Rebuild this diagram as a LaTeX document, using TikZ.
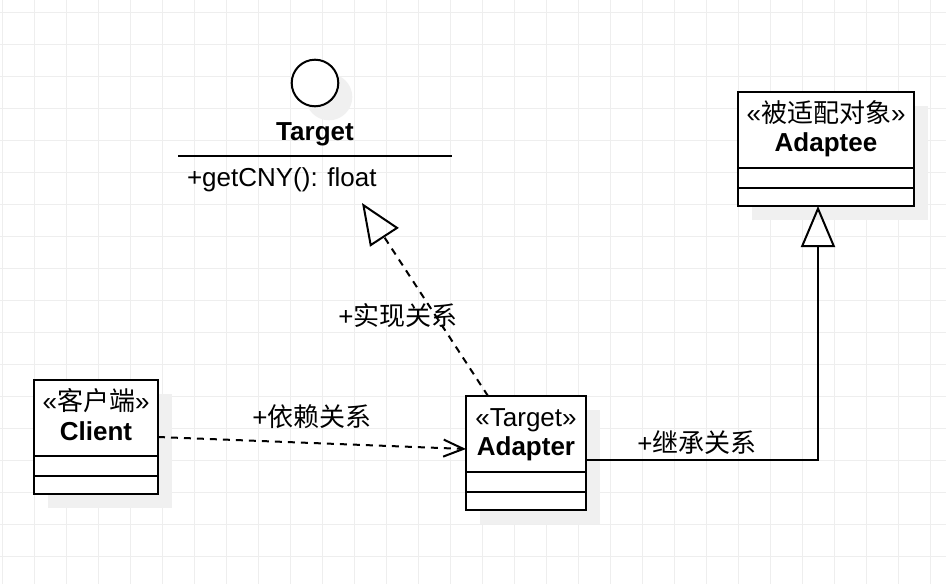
\documentclass[tikz,border=0pt]{standalone}
\usepackage{fontspec}
\setmainfont{Liberation Sans}
\newfontfamily\cjk{Noto Sans CJK SC}
\usetikzlibrary{arrows.meta}
\definecolor{gridc}{RGB}{238,238,238}
\definecolor{shadowc}{RGB}{240,240,240}
\begin{document}
\begin{tikzpicture}[x=1pt,y=-1pt,
  every node/.style={font=\fontsize{26}{30}\selectfont, inner sep=0pt, outer sep=0pt},
  bold/.style={font=\fontsize{26}{30}\selectfont\bfseries},
  umlbox/.style={draw=black, line width=2pt, fill=white, rectangle},
  conn/.style={line width=2pt, draw=black},
  dashconn/.style={conn, dash pattern=on 7pt off 6pt},
  gridline/.style={draw=gridc, line width=1pt},
  opentri/.style={-{Triangle[open, length=41pt, width=34pt]}},
  openbarb/.style={-{Straight Barb[length=20pt, width=17pt]}}]
\useasboundingbox (0,0) rectangle (946,584);
\fill[white] (0,0) rectangle (946,584);
% grid
\foreach \gx in {2,34,...,930} { \draw[gridline] (\gx,0) -- (\gx,584); }
\foreach \gy in {12,44,...,556} { \draw[gridline] (0,\gy) -- (946,\gy); }
% shadows
\fill[shadowc] (48,394) rectangle (172,508);
\fill[shadowc] (480,410) rectangle (600,524);
\fill[shadowc] (752,106) rectangle (928,220);
\fill[shadowc] (329,97) circle (23.3);
% interface Target
\node[circle, draw=black, line width=2pt, fill=white, minimum size=46.6pt] (ifc) at (315,83) {};
\node[bold, anchor=base] (ifcName) at (315,140) {Target};
\coordinate (sepL) at (178,156);
\coordinate (sepR) at (452,156);
\draw[conn] (sepL) -- (sepR);
\node[anchor=base west] (ifcOp) at (187,186) {+getCNY(): float};
% Client
\node[umlbox, minimum width=124pt, minimum height=114pt] (client) at (96,437) {};
\draw[conn] (client.west |- 0,456) -- (client.east |- 0,456);
\draw[conn] (client.west |- 0,476) -- (client.east |- 0,476);
\node[anchor=base] (clientSt) at (96,410) {«{\cjk 客户端}»};
\node[bold, anchor=base] (clientName) at (96,440) {Client};
% Adapter
\node[umlbox, minimum width=120pt, minimum height=114pt] (adapter) at (526,453) {};
\draw[conn] (adapter.west |- 0,472) -- (adapter.east |- 0,472);
\draw[conn] (adapter.west |- 0,492) -- (adapter.east |- 0,492);
\node[anchor=base] (adapterSt) at (526,426) {«Target»};
\node[bold, anchor=base] (adapterName) at (526,455) {Adapter};
% Adaptee
\node[umlbox, minimum width=176pt, minimum height=114pt] (adaptee) at (826,149) {};
\draw[conn] (adaptee.west |- 0,168) -- (adaptee.east |- 0,168);
\draw[conn] (adaptee.west |- 0,188) -- (adaptee.east |- 0,188);
\node[anchor=base] (adapteeSt) at (826,122) {«{\cjk 被适配对象}»};
\node[bold, anchor=base] (adapteeName) at (826,151.5) {Adaptee};
% connectors
\coordinate (realTip) at (362,203);
\draw[dashconn, opentri] ([xshift=-38pt]adapter.north) -- (realTip);
\draw[dashconn, openbarb] (client.east) -- ([yshift=4pt]adapter.west);
\draw[conn, opentri] ([yshift=-7pt]adapter.east) -| ([xshift=-8pt]adaptee.south);
% labels
\node[anchor=base] (lblReal) at (398,325) {+{\cjk 实现关系}};
\node[anchor=base] (lblDep) at (312,426) {+{\cjk 依赖关系}};
\node[anchor=base] (lblGen) at (697,452) {+{\cjk 继承关系}};
\end{tikzpicture}
\end{document}
